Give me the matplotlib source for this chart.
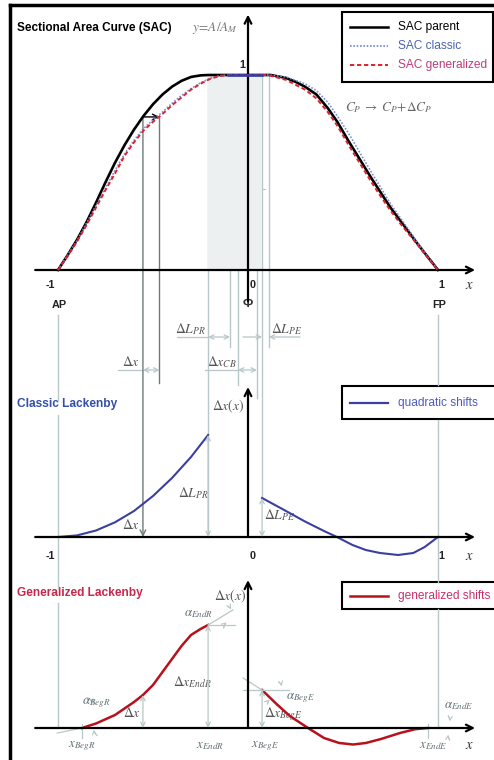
import matplotlib.pyplot as plt
from matplotlib.patches import Rectangle

plt.rcParams['font.family'] = ['Liberation Sans', 'DejaVu Sans']
plt.rcParams['mathtext.fontset'] = 'stix'

# SAC curves, x from -1 (AP) to 1 (FP), y = A/A_M
parent_x = [-1, -0.95, -0.9, -0.85, -0.8, -0.75, -0.7, -0.65, -0.6, -0.55, -0.5, -0.45, -0.4, -0.35,
            -0.3, -0.25, -0.21, 0.12, 0.2, 0.25, 0.3, 0.36, 0.42, 0.47, 0.53, 0.59, 0.65, 0.7, 0.75,
            0.8, 0.85, 0.9, 0.96, 1]
parent_y = [0, 0.075, 0.155, 0.245, 0.345, 0.45, 0.55, 0.64, 0.72, 0.79, 0.85, 0.9, 0.94, 0.97,
            0.99, 0.998, 1, 1, 0.985, 0.965, 0.94, 0.9, 0.83, 0.76, 0.66, 0.565, 0.47, 0.395, 0.32,
            0.255, 0.19, 0.125, 0.05, 0]
classic_x = [-1, -0.95, -0.9, -0.85, -0.8, -0.75, -0.7, -0.65, -0.6, -0.55, -0.5, -0.45, -0.4, -0.35,
             -0.3, -0.25, -0.2, -0.15, -0.105, 0.105, 0.2, 0.3, 0.36, 0.42, 0.47, 0.53, 0.59, 0.65,
             0.7, 0.75, 0.8, 0.85, 0.9, 0.96, 1]
classic_y = [0, 0.075, 0.15, 0.24, 0.33, 0.42, 0.51, 0.595, 0.665, 0.725, 0.77, 0.81, 0.855, 0.895,
             0.93, 0.96, 0.983, 0.996, 1, 1, 0.99, 0.955, 0.92, 0.86, 0.79, 0.7, 0.6, 0.5,
             0.42, 0.34, 0.27, 0.2, 0.13, 0.05, 0]
general_x = classic_x
general_y = [0, 0.07, 0.145, 0.23, 0.32, 0.41, 0.495, 0.585, 0.655, 0.715, 0.76, 0.8, 0.845, 0.885,
             0.925, 0.955, 0.98, 0.995, 1, 1, 0.975, 0.925, 0.88, 0.81, 0.74, 0.64, 0.545, 0.45,
             0.375, 0.305, 0.24, 0.18, 0.12, 0.045, 0]
flat_x = [-0.105, 0.075]

# stations (x)
x_ap, x_fp = -1, 1
x_dx0, x_dx1 = -0.553, -0.466
x_pr0, x_pr1 = -0.21, -0.095
x_cb0, x_cb1 = -0.053, 0.047
x_pe0, x_pe1 = 0.074, 0.11

# classic Lackenby quadratic shifts
quad_run_x = [-1, -0.9, -0.8, -0.7, -0.6, -0.5, -0.4, -0.3, -0.21]
quad_run_y = [0, 0.016, 0.065, 0.147, 0.26, 0.41, 0.59, 0.8, 1.02]
quad_ent_x = [0.074, 0.2, 0.3, 0.4, 0.468, 0.55, 0.62, 0.695, 0.79, 0.87, 0.93, 1]
quad_ent_y = [0.39, 0.26, 0.155, 0.06, 0, -0.08, -0.13, -0.16, -0.18, -0.16, -0.1, 0]

# generalized Lackenby shifts
gen_run_x = [-0.874, -0.8, -0.7, -0.6, -0.553, -0.5, -0.45, -0.4, -0.35, -0.3, -0.25, -0.21]
gen_run_y = [0, 0.045, 0.13, 0.26, 0.33, 0.43, 0.56, 0.69, 0.82, 0.93, 0.99, 1.03]
gen_ent_x = [0.074, 0.15, 0.22, 0.316, 0.4, 0.48, 0.553, 0.62, 0.7, 0.8, 0.88, 0.947]
gen_ent_y = [0.38, 0.24, 0.12, 0, -0.1, -0.15, -0.165, -0.15, -0.11, -0.05, -0.012, 0]

W, H = 494, 760
x0, sx = 248, 190
xl = (-x0 / sx, (W - x0) / sx)

fig = plt.figure(figsize=(W / 100, H / 100), dpi=100)


def layer(ylim):
    a = fig.add_axes([0, 0, 1, 1])
    a.set_xlim(*xl)
    a.set_ylim(*ylim)
    a.axis('off')
    a.patch.set_alpha(0)
    return a


ann = fig.add_axes([0, 0, 1, 1])
ann.set_xlim(0, W)
ann.set_ylim(H, 0)
ann.axis('off')
ax0 = layer((H, 0))
top = layer(((270 - H) / 195, 270 / 195))
mid = layer(((537 - H) / 100, 537 / 100))
bot = layer(((728 - H) / 100, 728 / 100))

light = '#b8c7c7'
dark = '#6d7b7b'
lab = '#5e6d70'
axis_arrow = dict(arrowstyle='->', color='k', lw=1.6, mutation_scale=12, shrinkA=0, shrinkB=0)

# frame
ann.plot([10, 10], [5, H], color='k', lw=2.5)
ann.plot([10, W], [5, 5], color='k', lw=2.5)

# station lines across panels (x data, y pixels)
station_segments = [(x_ap, 315, 400), (x_ap, 415, 588), (x_ap, 603, 728),
                    (x_pr0, 76, 537), (x_pr1, 76, 347), (x_cb0, 182, 385), (x_cb1, 182, 398),
                    (x_pe0, 76, 498), (x_pe1, 76, 347),
                    (x_fp, 315, 385), (x_fp, 420, 582), (x_fp, 609, 728)]
for x, y0, y1 in station_segments:
    ax0.plot([x, x], [y0, y1], color=light, lw=1.0)
ax0.plot([x_dx1, x_dx1], [117, 383], color=dark, lw=1.0)
ax0.annotate('', xy=(x_dx0, 537), xytext=(x_dx0, 117),
             arrowprops=dict(arrowstyle='->', color=dark, lw=1.0, shrinkA=0, shrinkB=0))

# top panel
top.fill_between([x_pr0, x_pe0], 0, 1, color='#edf0f0', lw=0, zorder=0)
top.plot(parent_x, parent_y, color='k', lw=1.9, zorder=3)
top.plot(classic_x, classic_y, color='#7b8fd0', lw=1.2, ls=(0, (1, 1)), zorder=4)
top.plot(general_x, general_y, color='#e0202a', lw=1.4, ls=(0, (2.2, 1.4)), zorder=5)
top.plot(flat_x, [1, 1], color='#2f3fb0', lw=1.8, zorder=6)
top.annotate('', xy=(x_dx1, 0.785), xytext=(x_dx0, 0.785),
             arrowprops=dict(arrowstyle='->', color='k', lw=1.0, shrinkA=0, shrinkB=0))
top.annotate('', xy=(1.195, 0), xytext=(-1.12, 0), arrowprops=axis_arrow)
top.annotate('', xy=(0, 1.31), xytext=(0, -0.16), arrowprops=axis_arrow)
for xc in (x_cb0, x_cb1):
    ax0.plot([xc], [189], marker='o', ms=5, mfc='none', mec=light, mew=1.0)
    ax0.plot([xc - 0.045, xc + 0.045], [189, 189], color=light, lw=0.8)
    ax0.plot([xc, xc], [180, 198], color=light, lw=0.8)


def dim(x_a, x_b, y, style='<->'):
    ax0.annotate('', xy=(x_b, y), xytext=(x_a, y),
                 arrowprops=dict(arrowstyle=style, color=light, lw=0.9, shrinkA=0, shrinkB=0,
                                 mutation_scale=8))


ax0.plot([(118 - x0) / sx, x_dx0], [370, 370], color=light, lw=0.9)
dim(x_dx0, x_dx1, 370)
ax0.plot([(177 - x0) / sx, x_pr0], [337, 337], color=light, lw=0.9)
dim(x_pr0, x_pr1, 337)
ax0.plot([(205 - x0) / sx, x_cb0], [370, 370], color=light, lw=0.9)
dim(x_cb0, x_cb1, 370)
dim((243 - x0) / sx, x_pe0, 337, '->')
dim((300 - x0) / sx, x_pe1, 337, '->')

# middle panel
mid.plot(quad_run_x, quad_run_y, color='#3b3f9e', lw=1.5)
mid.plot(quad_ent_x, quad_ent_y, color='#3b3f9e', lw=1.5)
mid.annotate('', xy=(1.195, 0), xytext=(-1.12, 0), arrowprops=axis_arrow)
mid.annotate('', xy=(0, 1.5), xytext=(0, 0), arrowprops=axis_arrow)
for xs, yv in [(x_pr0, quad_run_y[-1]), (x_pe0, quad_ent_y[0])]:
    mid.annotate('', xy=(xs, 0), xytext=(xs, yv),
                 arrowprops=dict(arrowstyle='<->', color=light, lw=0.9, mutation_scale=8, shrinkA=0, shrinkB=0))

# bottom panel
bot.plot(gen_run_x, gen_run_y, color='#b5121e', lw=1.8)
bot.plot(gen_ent_x, gen_ent_y, color='#b5121e', lw=1.8)
bot.annotate('', xy=(1.195, 0), xytext=(-1.12, 0), arrowprops=axis_arrow)
bot.annotate('', xy=(0, 1.48), xytext=(0, 0), arrowprops=axis_arrow)
for xs, yv in [(x_dx0, gen_run_y[4]), (x_pr0, gen_run_y[-1]), (x_pe0, gen_ent_y[0])]:
    bot.annotate('', xy=(xs, 0), xytext=(xs, yv),
                 arrowprops=dict(arrowstyle='<->', color=light, lw=0.9, mutation_scale=8, shrinkA=0, shrinkB=0))
for xs in (gen_run_x[0], gen_ent_x[-1]):
    bot.plot([xs, xs], [0.04, -0.1], color=light, lw=0.9)
# tangent / angle marks
bot.plot([x_pr0, x_pr0 + 0.14], [gen_run_y[-1], gen_run_y[-1]], color=light, lw=0.9)
bot.plot([x_pr0, x_pr0 + 0.13], [gen_run_y[-1], gen_run_y[-1] + 0.15], color=light, lw=0.9)
bot.plot([x_pe0 - 0.1, x_pe0 + 0.14], [gen_ent_y[0], gen_ent_y[0]], color=light, lw=0.9)
bot.plot([x_pe0 - 0.1, x_pe0], [gen_ent_y[0] + 0.12, gen_ent_y[0]], color=light, lw=0.9)
bot.plot([gen_run_x[0] - 0.13, gen_run_x[0]], [-0.05, 0], color=light, lw=0.9)
arc = dict(arrowstyle='->', color=light, lw=0.8, mutation_scale=7, connectionstyle='arc3,rad=-0.4')
ann.annotate('', xy=(94, 707), xytext=(84, 697), arrowprops=arc)
ann.annotate('', xy=(94, 727), xytext=(100, 737), arrowprops=arc)
ann.annotate('', xy=(229, 621), xytext=(224, 631), arrowprops=arc)
ann.annotate('', xy=(232, 612), xytext=(225, 606), arrowprops=arc)
ann.annotate('', xy=(282, 689), xytext=(276, 681), arrowprops=arc)
ann.annotate('', xy=(272, 698), xytext=(268, 706), arrowprops=arc)
ann.annotate('', xy=(449, 724), xytext=(446, 714), arrowprops=arc)
ann.annotate('', xy=(449, 732), xytext=(452, 742), arrowprops=arc)


def legend_box(y0, h, w, rows):
    ann.add_patch(Rectangle((342, y0), w, h, fill=True, fc='white', ec='k', lw=1.5, zorder=8))
    for y, c, ls, lw, txt, tc in rows:
        ann.plot([350, 388], [y, y], color=c, ls=ls, lw=lw, zorder=9)
        ann.text(398, y, txt, color=tc, fontsize=8.6, va='center', zorder=9)


legend_box(12, 70, 151, [(27, 'k', '-', 1.8, 'SAC parent', 'k'),
                         (46, '#6f86c8', (0, (1, 1)), 1.2, 'SAC classic', '#4a64b0'),
                         (65, '#e0202a', (0, (2.2, 1.4)), 1.4, 'SAC generalized', '#c03a78')])
legend_box(386, 33, 160, [(403, '#3b3f9e', '-', 1.6, 'quadratic shifts', '#4d5bbd')])
legend_box(582, 27, 160, [(596, '#b5121e', '-', 1.8, 'generalized shifts', '#c8306a')])

# texts
ann.text(17, 28, 'Sectional Area Curve (SAC)', fontsize=8.5, fontweight='bold', va='center')
ann.text(192, 28, r'$y\!=\!A/A_M$', fontsize=9.5, color='#777777', va='center')
ann.text(345, 108, r'$C_P\;\rightarrow\;C_P\!+\!\Delta C_P$', fontsize=9.5, color='#666666', va='center')
ann.text(17, 404, 'Classic Lackenby', fontsize=8.6, fontweight='bold', color='#3350a8', va='center')
ann.text(17, 593, 'Generalized Lackenby', fontsize=8.6, fontweight='bold', color='#c8284a', va='center')

num = dict(fontsize=7.8, fontweight='bold', ha='center', va='center', color='#222222')
ann.text(242, 65, '1', **num)
for y in (285, 556):
    ann.text(50, y, '-1', **num)
    ann.text(253, y, '0', **num)
    ann.text(441, y, '1', **num)
    ann.text(469, y, r'$x$', fontsize=10.5, color='#333333', ha='center', va='center')
ann.text(59, 305, 'AP', **num)
ann.text(439, 305, 'FP', **num)
ann.text(248, 304, '\u03a6', fontsize=9, fontweight='bold', ha='center', va='center', color='#333333')

g = dict(fontsize=9.8, color='#555555', ha='center', va='center')
ann.text(131, 362, r'$\Delta x$', **g)
ann.text(190, 329, r'$\Delta L_{PR}$', **g)
ann.text(222, 362, r'$\Delta x_{CB}$', **g)
ann.text(287, 329, r'$\Delta L_{PE}$', **g)
ann.text(228, 406, r'$\Delta x(x)$', **g)
ann.text(131, 525, r'$\Delta x$', **g)
ann.text(193, 493, r'$\Delta L_{PR}$', **g)
ann.text(280, 515, r'$\Delta L_{PE}$', **g)
ann.text(230, 596, r'$\Delta x(x)$', **g)
ann.text(132, 713, r'$\Delta x$', **g)
ann.text(192, 682, r'$\Delta x_{EndR}$', **g)
ann.text(283, 714, r'$\Delta x_{BegE}$', **g)

a = dict(fontsize=9.3, color=lab, ha='center', va='center')
ann.text(96, 703, r'$\alpha_{BegR}$', **a)
ann.text(198, 614, r'$\alpha_{EndR}$', **a)
ann.text(300, 698, r'$\alpha_{BegE}$', **a)
ann.text(459, 706, r'$\alpha_{EndE}$', **a)
ann.text(82, 746, r'$x_{BegR}$', **a)
ann.text(210, 746, r'$x_{EndR}$', **a)
ann.text(265, 746, r'$x_{BegE}$', **a)
ann.text(433, 746, r'$x_{EndE}$', **a)
ann.text(469, 745, r'$x$', fontsize=10.5, color='#333333', ha='center', va='center')

fig.savefig('out.png', dpi=100)
